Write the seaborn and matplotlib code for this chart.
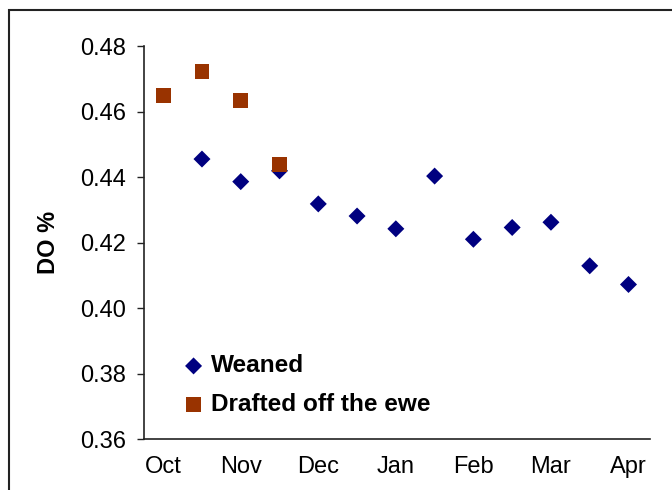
import pandas as pd
import numpy as np
import matplotlib.pyplot as plt
import seaborn as sns
from matplotlib.patches import Rectangle

# Data (half-month steps, Oct -> Apr)
month_labels = ["Oct", "Nov", "Dec", "Jan", "Feb", "Mar", "Apr"]
weaned_x = [1, 2, 3, 4, 5, 6, 7, 8, 9, 10, 11, 12]
weaned_do = [0.4455, 0.4386, 0.4419, 0.4318, 0.4281, 0.4242, 0.4403,
             0.4210, 0.4246, 0.4262, 0.4129, 0.4072]
drafted_x = [0, 1, 2, 3]
drafted_do = [0.4650, 0.4721, 0.4633, 0.4437]

weaned = pd.DataFrame({"period": weaned_x, "DO": weaned_do})
drafted = pd.DataFrame({"period": drafted_x, "DO": drafted_do})

sns.set_style("white")
plt.rcParams["font.family"] = ["Liberation Sans", "DejaVu Sans"]
plt.rcParams["text.color"] = "black"
plt.rcParams["axes.labelcolor"] = "black"
plt.rcParams["xtick.color"] = "black"
plt.rcParams["ytick.color"] = "black"

fig = plt.figure(figsize=(6.72, 4.9), dpi=100)
ax = fig.add_axes([0.214, 0.104, 0.753, 0.802])

sns.scatterplot(data=weaned, x="period", y="DO", ax=ax, marker="D", s=75,
                color="#000080", edgecolor="none", label="Weaned")
sns.scatterplot(data=drafted, x="period", y="DO", ax=ax, marker="s", s=115,
                color="#993300", edgecolor="none", label="Drafted off the ewe")

ax.set_xlim(-0.5, 12.55)
ax.set_ylim(0.36, 0.48)
ax.set_yticks(np.arange(0.36, 0.481, 0.02))
ax.set_yticklabels([f"{v:.2f}" for v in np.arange(0.36, 0.481, 0.02)])
ax.set_xticks(range(0, 13, 2))
ax.set_xticklabels(month_labels)
ax.tick_params(axis="y", direction="out", length=5, width=1, color="#222222",
               labelsize=17, pad=8, left=True)
ax.tick_params(axis="x", length=0, labelsize=17, pad=12)
ax.set_xlabel("")
ax.set_ylabel("DO %", fontsize=17, fontweight="bold", labelpad=14)

for side in ["top", "right"]:
    ax.spines[side].set_visible(False)
for side in ["left", "bottom"]:
    ax.spines[side].set_color("#222222")
    ax.spines[side].set_linewidth(1.2)

leg = ax.legend(loc="lower left", bbox_to_anchor=(0.05, 0.035), frameon=False,
                prop={"size": 17.6, "weight": "bold"}, handletextpad=0.1,
                labelspacing=0.62, borderaxespad=0, handlelength=1.2)

# outer chart border (clipped at right/bottom in the reference)
fig.patches.append(Rectangle((9 / 672, -0.1), 1.2, 1.1 - 10 / 490,
                             transform=fig.transFigure, fill=False,
                             edgecolor="#222222", linewidth=1.5))

fig.savefig("out.png", dpi=100)
plt.close()
